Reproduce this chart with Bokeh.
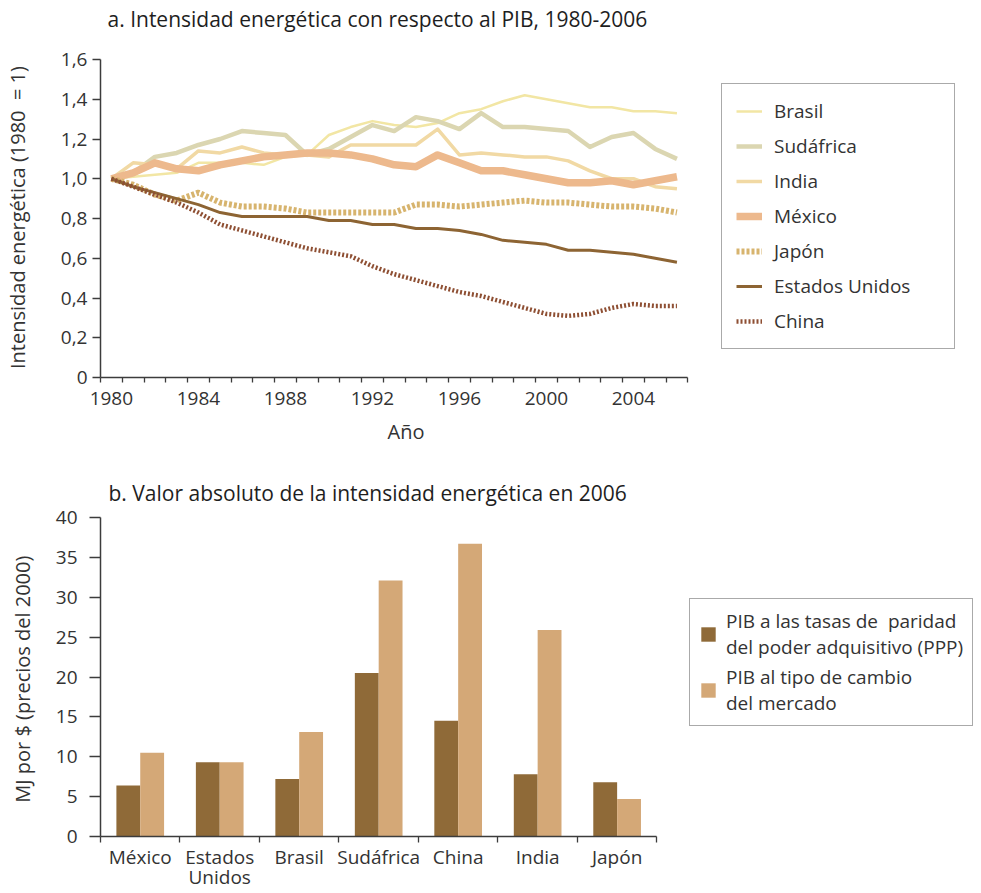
import numpy as np
from bokeh.plotting import figure
from bokeh.models import (FixedTicker, CustomJSTickFormatter, Legend, LegendItem,
                          ColumnDataSource, Range1d, Label, Title)
from bokeh.layouts import column
from bokeh.transform import dodge
from bokeh.embed import file_html
from bokeh.resources import INLINE

FONT = "Open Sans"
TXT = "#333333"
AX = "#3c3c3c"
NBSP = "\u00a0"

# ---------------- data: panel a ----------------
years = list(range(1980, 2007))
brasil = [1.00, 1.01, 1.02, 1.03, 1.08, 1.08, 1.08, 1.07, 1.11, 1.12, 1.22, 1.26, 1.29, 1.27, 1.26,
          1.28, 1.33, 1.35, 1.39, 1.42, 1.40, 1.38, 1.36, 1.36, 1.34, 1.34, 1.33]
sudafrica = [1.00, 1.03, 1.11, 1.13, 1.17, 1.20, 1.24, 1.23, 1.22, 1.12, 1.15, 1.21, 1.27, 1.24, 1.31,
             1.29, 1.25, 1.33, 1.26, 1.26, 1.25, 1.24, 1.16, 1.21, 1.23, 1.15, 1.10]
india = [1.00, 1.08, 1.07, 1.05, 1.14, 1.13, 1.16, 1.13, 1.12, 1.12, 1.11, 1.17, 1.17, 1.17, 1.17,
         1.25, 1.12, 1.13, 1.12, 1.11, 1.11, 1.09, 1.04, 1.00, 1.00, 0.96, 0.95]
mexico = [1.00, 1.03, 1.08, 1.05, 1.04, 1.07, 1.09, 1.11, 1.12, 1.13, 1.13, 1.12, 1.10, 1.07, 1.06,
          1.12, 1.08, 1.04, 1.04, 1.02, 1.00, 0.98, 0.98, 0.99, 0.97, 0.99, 1.01]
japon = [1.00, 0.97, 0.92, 0.89, 0.93, 0.88, 0.86, 0.86, 0.85, 0.83, 0.83, 0.83, 0.83, 0.83, 0.87,
         0.87, 0.86, 0.87, 0.88, 0.89, 0.88, 0.88, 0.87, 0.86, 0.86, 0.85, 0.83]
eeuu = [1.00, 0.96, 0.93, 0.90, 0.87, 0.83, 0.81, 0.81, 0.81, 0.81, 0.79, 0.79, 0.77, 0.77, 0.75,
        0.75, 0.74, 0.72, 0.69, 0.68, 0.67, 0.64, 0.64, 0.63, 0.62, 0.60, 0.58]
china = [1.00, 0.96, 0.92, 0.88, 0.83, 0.77, 0.74, 0.71, 0.68, 0.65, 0.63, 0.61, 0.56, 0.52, 0.49,
         0.46, 0.43, 0.41, 0.38, 0.35, 0.32, 0.31, 0.32, 0.35, 0.37, 0.36, 0.36]
year_ticks = [1980, 1984, 1988, 1992, 1996, 2000, 2004]
y_ticks_a = [0, 0.2, 0.4, 0.6, 0.8, 1.0, 1.2, 1.4, 1.6]

# ---------------- data: panel b ----------------
paises = ["México", "Estados\nUnidos", "Brasil", "Sudáfrica", "China", "India", "Japón"]
ppp = [6.4, 9.3, 7.2, 20.5, 14.5, 7.8, 6.8]
mercado = [10.5, 9.3, 13.1, 32.1, 36.7, 25.9, 4.7]
y_ticks_b = [0, 5, 10, 15, 20, 25, 30, 35, 40]

series = [
    ("Brasil", brasil, "#f2e6a4", 2.5, "solid"),
    ("Sudáfrica", sudafrica, "#dbd6b1", 4.5, "solid"),
    ("India", india, "#f1d9a4", 3.5, "solid"),
    ("México", mexico, "#edb98d", 7.5, "solid"),
    ("Japón", japon, "#d7b46e", 6, "3 2"),
    ("Estados Unidos", eeuu, "#8d6433", 3, "solid"),
    ("China", china, "#8e4f33", 4.5, "2 2"),
]

# ---------------- layout geometry (pixels) ----------------
W = 981
LB = 99                 # left border: y axis position
FRAME_W = W - LB        # frame spans to the right edge; axes limited with bounds
H1, H2 = 459, 434
A_AXIS_W = 588          # visible x-axis length, panel a
A_AXIS_H = 318          # visible y-axis length, panel a
A_BOTTOM = 377          # x axis position from top of panel a
B_AXIS_W = 557
B_TOP = 517 - H1        # position of the 40 tick from top of panel b
B_BOTTOM = 836 - H1     # x axis position from top of panel b
B_AXIS_H = B_BOTTOM - B_TOP


def style_axis(ax, tick_size="19px", label_size="20px"):
    ax.axis_line_color = AX
    ax.axis_line_width = 1.5
    ax.major_tick_line_color = AX
    ax.minor_tick_line_color = AX
    ax.major_tick_line_width = 1.3
    ax.minor_tick_line_width = 1.3
    ax.major_label_text_font = FONT
    ax.major_label_text_font_size = tick_size
    ax.major_label_text_color = TXT
    ax.axis_label_text_font = FONT
    ax.axis_label_text_font_size = label_size
    ax.axis_label_text_font_style = "normal"
    ax.axis_label_text_color = TXT


def add_title(p, text, x, y_from_top, frame_h):
    p.add_layout(Label(x=x, y=frame_h - y_from_top, x_units="screen", y_units="screen",
                       text=text, text_font=FONT, text_font_size="21px",
                       text_color="#1e1e1e", text_baseline="middle", text_align="left"))


# ---------------- figure a ----------------
n_years = len(years)
a_x0 = years[0] - 0.5
a_xend = a_x0 + n_years * FRAME_W / A_AXIS_W
a_yend = 1.6 * A_BOTTOM / A_AXIS_H

p1 = figure(width=W, height=H1, x_range=Range1d(a_x0, a_xend), y_range=Range1d(0, a_yend),
            output_backend="svg", toolbar_location=None,
            min_border_left=LB, min_border_right=0, min_border_top=0,
            min_border_bottom=H1 - A_BOTTOM)
add_title(p1, "a. Intensidad energética con respecto al PIB, 1980-2006", 7, 18, A_BOTTOM)

items = []
for name, vals, col, lw, dash in series:
    r = p1.line(years, vals, line_color=col, line_width=lw, line_dash=dash,
                line_join="round", line_cap="butt")
    items.append(LegendItem(label=name, renderers=[r]))

leg1 = Legend(items=items, location=(621, 28), orientation="vertical",
              label_text_font=FONT, label_text_font_size="19px", label_text_color=TXT,
              glyph_width=26, glyph_height=20, label_height=20, label_width=166,
              label_standoff=12, spacing=9, padding=14, margin=0,
              border_line_color="#555555", border_line_width=1.2,
              background_fill_color="white", background_fill_alpha=1)
p1.add_layout(leg1, "center")

p1.xgrid.visible = False
p1.ygrid.visible = False
p1.outline_line_color = None

xa = p1.xaxis[0]
xa.bounds = (a_x0, years[-1] + 0.5)
xa.ticker = FixedTicker(ticks=year_ticks, minor_ticks=[y - 0.5 for y in years] + [years[-1] + 0.5])
xa.formatter = CustomJSTickFormatter(code="return tick.toFixed(0);")
xa.major_tick_out = 0
xa.major_tick_in = 0
xa.minor_tick_out = 5
xa.minor_tick_in = 0
xa.major_label_standoff = 9
p1.add_layout(Title(text="Año", align="left", offset=287, standoff=16,
                    text_font=FONT, text_font_size="20px", text_font_style="normal",
                    text_color=TXT), "below")

ya = p1.yaxis[0]
ya.bounds = (0, 1.6)
ya.ticker = FixedTicker(ticks=y_ticks_a)
ya.formatter = CustomJSTickFormatter(code="return tick == 0 ? '0' : tick.toFixed(1).replace('.', ',');")
ya.major_tick_out = 8
ya.major_tick_in = 0
ya.minor_tick_out = 0
ya.minor_tick_in = 0
ya.major_label_standoff = 5
# trailing non-breaking spaces keep the title centred on the visible 0-1,6 axis
ya.axis_label = "Intensidad energética (1980" + NBSP + " = 1)" + NBSP * 11
ya.axis_label_standoff = 27
style_axis(xa)
style_axis(ya)

# ---------------- figure b ----------------
n = len(paises)
src = ColumnDataSource(dict(pos=[i + 0.5 for i in range(n)], ppp=ppp, mercado=mercado))
b_xend = n * FRAME_W / B_AXIS_W
b_yend = 40 * B_BOTTOM / B_AXIS_H

p2 = figure(width=W, height=H2, x_range=Range1d(0, b_xend), y_range=Range1d(0, b_yend),
            output_backend="svg", toolbar_location=None,
            min_border_left=LB, min_border_right=0, min_border_top=0,
            min_border_bottom=H2 - B_BOTTOM)
add_title(p2, "b. Valor absoluto de la intensidad energética en 2006", 8, 492 - H1, B_BOTTOM)

r1 = p2.vbar(x=dodge("pos", -0.15), top="ppp", width=0.3, source=src,
             fill_color="#8f6a38", line_color=None)
r2 = p2.vbar(x=dodge("pos", 0.15), top="mercado", width=0.3, source=src,
             fill_color="#d4a877", line_color=None)

leg2 = Legend(items=[
    LegendItem(label="PIB a las tasas de" + NBSP + " paridad\ndel poder adquisitivo (PPP)", renderers=[r1]),
    LegendItem(label="PIB al tipo de cambio\ndel mercado", renderers=[r2]),
], location=(589, 110), orientation="vertical",
    label_text_font=FONT, label_text_font_size="19px", label_text_color=TXT,
    glyph_width=18, glyph_height=18, label_standoff=9, spacing=4, padding=9, margin=0,
    border_line_color="#555555", border_line_width=1.2,
    background_fill_color="white", background_fill_alpha=1)
p2.add_layout(leg2, "center")

p2.xgrid.visible = False
p2.ygrid.visible = False
p2.outline_line_color = None

xb = p2.xaxis[0]
xb.bounds = (0, n)
xb.ticker = FixedTicker(ticks=[i + 0.5 for i in range(n)], minor_ticks=list(range(n + 1)))
xb.formatter = CustomJSTickFormatter(args=dict(cats=paises), code="return cats[Math.floor(tick)];")
xb.major_tick_out = 0
xb.major_tick_in = 0
xb.minor_tick_out = 6
xb.minor_tick_in = 0
xb.major_label_standoff = 1

yb = p2.yaxis[0]
yb.bounds = (0, 40)
yb.ticker = FixedTicker(ticks=y_ticks_b)
yb.major_tick_out = 11
yb.major_tick_in = 0
yb.minor_tick_out = 0
yb.minor_tick_in = 0
yb.major_label_standoff = 12
yb.axis_label = "MJ por $ (precios del 2000)" + NBSP * 12
yb.axis_label_standoff = 17
style_axis(xb)
style_axis(yb)
xb.major_label_text_line_height = 0.8

layout = column(p1, p2, spacing=0)
open("out.html", "w").write(file_html(layout, INLINE))
